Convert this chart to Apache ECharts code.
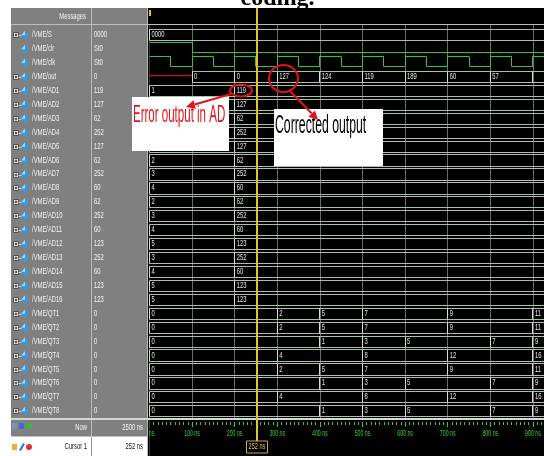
<!DOCTYPE html>
<html>
<head>
<meta charset="utf-8">
<style>
html,body{margin:0;padding:0;background:#fff;}
#c{width:544px;height:456px;}
</style>
<script src="https://cdn.jsdelivr.net/npm/echarts@6/dist/echarts.min.js"></script>
</head>
<body>
<div id="c"></div>
<script>
// ---- waveform data (times in ns) ----
const signalNames = ['/VME/S','/VME/clr','/VME/clk','/VME/out',
  '/VME/AD1','/VME/AD2','/VME/AD3','/VME/AD4','/VME/AD5','/VME/AD6','/VME/AD7','/VME/AD8',
  '/VME/AD9','/VME/AD10','/VME/AD11','/VME/AD12','/VME/AD13','/VME/AD14','/VME/AD15','/VME/AD16',
  '/VME/QT1','/VME/QT2','/VME/QT3','/VME/QT4','/VME/QT5','/VME/QT6','/VME/QT7','/VME/QT8'];

const sTimes = [0];
const sValues = ['0000'];

const clrTimes = [0, 100];
const clrLevels = [1, 0];

const clkTimes  = [0, 50, 100, 150, 200, 250, 300, 350, 400, 450, 500, 550, 600, 650, 700, 750, 800, 850, 900];
const clkLevels = [1, 0,  1,   0,   1,   0,   1,   0,   1,   0,   1,   0,   1,   0,   1,   0,   1,   0,   1];

const outTimes  = [0, 100, 200, 300, 400, 500, 600, 700, 800, 900];
const outValues = ['X', '0', '0', '127', '124', '119', '189', '60', '57', null];

const adTimes = [0, 200];
const adStart = ['1','1','2','3','1','2','3','4','2','3','4','5','3','4','5','5'];
const adFinal = ['119','127','62','252','127','62','252','60','62','252','60','123','252','60','123','123'];

const qtTimes = [
  [0, 300, 400, 500, 700, 900],
  [0, 300, 400, 500, 700, 900],
  [0, 400, 500, 600, 800, 900],
  [0, 300, 500, 700, 900],
  [0, 300, 400, 500, 700, 900],
  [0, 400, 500, 600, 800, 900],
  [0, 300, 500, 700, 900],
  [0, 400, 500, 600, 800, 900]
];
const qtValues = [
  ['0','2','5','7','9','11'],
  ['0','2','5','7','9','11'],
  ['0','1','3','5','7','9'],
  ['0','4','8','12','16'],
  ['0','2','5','7','9','11'],
  ['0','1','3','5','7','9'],
  ['0','4','8','12','16'],
  ['0','1','3','5','7','9']
];

const timeTicks = [0, 100, 200, 300, 400, 500, 600, 700, 800, 900];
const viewEnd = 926;
const cursorTime = 252;
const nowTime = 2500;

// ---- layout constants ----
const ROW0 = 35.2, PITCH = 13.93;
const WAVE_TOP = 24, WAVE_BOTTOM = 418, RULER_TOP = 420;
const LANE = 5.6;
const LANE_COLOR = '#a6c4a6', EDGE_COLOR = '#cfe2cf', BIT_COLOR = '#34c634';
const TXT = '9px "Liberation Sans", Arial, sans-serif';
const RED = '#e3121a';

// ---- build signal list ----
const signals = [];
signals.push({type:'bus', times:sTimes, values:sValues});
signals.push({type:'bit', times:clrTimes, values:clrLevels});
signals.push({type:'bit', times:clkTimes, values:clkLevels});
signals.push({type:'bus', times:outTimes, values:outValues});
for (let k = 0; k < adStart.length; k++) signals.push({type:'bus', times:adTimes, values:[adStart[k], adFinal[k]]});
for (let k = 0; k < qtTimes.length; k++) signals.push({type:'bus', times:qtTimes[k], values:qtValues[k]});
signals.forEach((s, i) => { s.name = signalNames[i]; s.row = i; });

const busSegs = [], bitSegs = [];
signals.forEach(s => {
  s.times.forEach((t, k) => {
    const t1 = k + 1 < s.times.length ? s.times[k + 1] : viewEnd;
    const seg = {t0: t, t1: t1, row: s.row, value: s.values[k], first: k === 0};
    (s.type === 'bus' ? busSegs : bitSegs).push(seg);
  });
});

function valueAt(s, t) {
  let v = s.values[0];
  s.times.forEach((tt, k) => { if (tt <= t) v = s.values[k]; });
  return s.type === 'bit' ? 'St' + v : String(v);
}
function crisp(v) { return Math.round(v - 0.5) + 0.5; }
function rowY(i) { return ROW0 + PITCH * i; }

// ---- series renderers ----
function renderBus(params, api) {
  const s = busSegs[params.dataIndex];
  const a = api.coord([s.t0, s.row]);
  const b = api.coord([s.t1, s.row]);
  const cy = a[1];
  const ch = [];
  if (s.value === 'X') {
    const y = crisp(cy - 1.5);
    ch.push({type:'line', shape:{x1:a[0], y1:y, x2:b[0], y2:y}, style:{stroke:'#b01c1c', lineWidth:1.5}});
  } else {
    const yt = crisp(cy - LANE), yb = crisp(cy + LANE), x = crisp(a[0]);
    ch.push({type:'line', shape:{x1:x, y1:yt, x2:b[0], y2:yt}, style:{stroke:LANE_COLOR, lineWidth:1}});
    ch.push({type:'line', shape:{x1:x, y1:yb, x2:b[0], y2:yb}, style:{stroke:LANE_COLOR, lineWidth:1}});
    ch.push({type:'line', shape:{x1:x, y1:yt, x2:x, y2:yb}, style:{stroke:EDGE_COLOR, lineWidth:1}});
    if (s.value != null) {
      ch.push({type:'text', x:a[0] + 2, y:cy - 0.5, scaleX:0.65,
        style:{text:String(s.value), fill:'#e4e4e4', font:TXT, align:'left', verticalAlign:'middle'}});
    }
  }
  return {type:'group', children:ch};
}

function renderBit(params, api) {
  const s = bitSegs[params.dataIndex];
  const a = api.coord([s.t0, s.row]);
  const b = api.coord([s.t1, s.row]);
  const yHi = crisp(a[1] - 7), yLo = crisp(a[1] + 3);
  const y = s.value ? yHi : yLo;
  const x = crisp(a[0]);
  const ch = [{type:'line', shape:{x1:x, y1:y, x2:b[0], y2:y}, style:{stroke:BIT_COLOR, lineWidth:1}}];
  if (!s.first) ch.push({type:'line', shape:{x1:x, y1:yHi, x2:x, y2:yLo}, style:{stroke:BIT_COLOR, lineWidth:1}});
  return {type:'group', children:ch};
}

// ---- panel / decoration graphics ----
const G = [];
function rect(x, y, w, h, fill, z) { G.push({type:'rect', shape:{x, y, width:w, height:h}, style:{fill}, z: z == null ? 3 : z, silent:true}); }
function hline(x1, x2, y, stroke, w, z) { G.push({type:'line', shape:{x1, y1:y, x2, y2:y}, style:{stroke, lineWidth:w || 1}, z: z == null ? 4 : z, silent:true}); }
function vline(x, y1, y2, stroke, w, z) { G.push({type:'line', shape:{x1:x, y1, x2:x, y2}, style:{stroke, lineWidth:w || 1}, z: z == null ? 4 : z, silent:true}); }
function label(text, x, y, o) {
  o = o || {};
  G.push({type:'text', x, y, scaleX: o.sx == null ? 0.65 : o.sx, z: o.z == null ? 5 : o.z, silent:true,
    style:{text, fill:o.fill || '#f2f2f2', font:o.font || TXT, align:o.align || 'left', verticalAlign:o.va || 'middle'}});
}

// page heading (partly hidden behind the viewer)
label('coding.', 277.5, -1.5, {font:'bold 24px "Liberation Serif", "Times New Roman", serif', fill:'#000', align:'center', sx:1, z:0});

// viewer frame
rect(11, 8, 137, 448, '#808080', 2);
rect(148, 8, 396, 16, '#000', 2);
rect(148, WAVE_TOP, 1.5, WAVE_BOTTOM - WAVE_TOP, '#000', 2);
vline(147.5, 8, 456, '#b6b6b6');
vline(91.5, 8, 456, '#bababa');
hline(11, 544, 24.5, '#bdbdbd');
rect(149, 10, 2, 6, '#e0c22a', 4);
label('Messages', 86, 16.5, {align:'right'});

// signal rows: expand box, icon, name, value at cursor
signals.forEach((s, i) => {
  const cy = rowY(i);
  if (s.type === 'bus') {
    G.push({type:'rect', shape:{x:13.5, y:Math.round(cy) - 2.5, width:5, height:5}, style:{fill:'#f4f4f4', stroke:'#505050', lineWidth:1}, z:4, silent:true});
    hline(14.5, 17.5, Math.round(cy), '#303030', 1, 5);
    vline(16, Math.round(cy) - 1.5, Math.round(cy) + 1.5, '#303030', 1, 5);
    hline(18.5, 21.5, Math.round(cy) + 0.5, '#d0d0d0', 1, 4);
  }
  G.push({type:'polygon', shape:{points:[[25, cy - 4.5], [28.8, cy], [25, cy + 4.5], [21.2, cy]]}, style:{fill:'#2f9ce6'}, z:4, silent:true});
  G.push({type:'polygon', shape:{points:[[25, cy - 4.5], [25, cy], [21.2, cy]]}, style:{fill:'#9ad6ff'}, z:5, silent:true});
  label(s.name, 32, cy - 0.5);
  label(valueAt(s, cursorTime), 94, cy - 0.5);
});

// bottom rows: Now / Cursor
rect(11, 418, 533, 2, '#d6d6d6', 6);
rect(148, 420, 1.5, 36, '#000', 2);
rect(12, 423, 5, 6, '#7f90b6', 4);
rect(19, 423, 5, 6, '#3a6ed0', 4);
G.push({type:'circle', shape:{cx:29, cy:426, r:3}, style:{fill:'#3bb83b'}, z:4, silent:true});
label('Now', 87, 427.5, {align:'right'});
label(nowTime + ' ns', 143, 427.5, {align:'right'});
rect(11, 437, 136, 19, '#ffffff', 3);
hline(11, 147, 436.5, '#c4c4c4', 1, 4);
vline(91.5, 437, 456, '#9a9a9a', 1, 5);
rect(12, 444, 5, 6, '#e2b23a', 5);
G.push({type:'polygon', shape:{points:[[19, 450], [23, 443], [25, 444], [21, 451]]}, style:{fill:'#3c78d8'}, z:5, silent:true});
G.push({type:'circle', shape:{cx:29, cy:447, r:3}, style:{fill:'#e03030'}, z:5, silent:true});
label('Cursor 1', 87, 447, {align:'right', fill:'#111'});
label(cursorTime + ' ns', 143, 447, {align:'right', fill:'#111'});

// annotations
function arrow(x1, y1, x2, y2) {
  const ang = Math.atan2(y2 - y1, x2 - x1), L = 9, W = 4.5;
  const bx = x2 - L * Math.cos(ang), by = y2 - L * Math.sin(ang);
  const px = -Math.sin(ang) * W, py = Math.cos(ang) * W;
  G.push({type:'line', shape:{x1, y1, x2:bx, y2:by}, style:{stroke:RED, lineWidth:2}, z:101, silent:true});
  G.push({type:'polygon', shape:{points:[[x2, y2], [bx + px, by + py], [bx - px, by - py]]}, style:{fill:RED}, z:101, silent:true});
}
rect(132, 97, 97, 54, '#ffffff', 100);
label('Error output in AD', 133, 115.5, {font:'24px "Liberation Sans", Arial, sans-serif', fill:RED, sx:0.48, z:101});
rect(274, 109, 109, 57, '#ffffff', 100);
label('Corrected output', 275, 126.5, {font:'25px "Liberation Sans", Arial, sans-serif', fill:'#000', sx:0.49, z:101});
G.push({type:'ellipse', shape:{cx:241, cy:90.5, rx:11, ry:6}, style:{fill:null, stroke:RED, lineWidth:2}, z:101, silent:true});
G.push({type:'ellipse', shape:{cx:283.5, cy:78.5, rx:14.5, ry:13.5}, style:{fill:null, stroke:RED, lineWidth:2}, z:101, silent:true});
arrow(231, 94, 186, 107);
arrow(290, 91, 318, 120);

// ---- chart ----
const chart = echarts.init(document.getElementById('c'), null, {renderer:'canvas'});
const option = {
  animation: false,
  backgroundColor: '#ffffff',
  grid: [
    {left:149.4, right:0, top:WAVE_TOP, height:WAVE_BOTTOM - WAVE_TOP, show:true, backgroundColor:'#000', borderWidth:0},
    {left:149.4, right:0, top:RULER_TOP, bottom:0, show:true, backgroundColor:'#000', borderWidth:0}
  ],
  xAxis: [
    {gridIndex:0, type:'value', min:0, max:viewEnd, interval:100,
      axisLine:{show:false, onZero:false}, axisTick:{show:false}, axisLabel:{show:false},
      splitLine:{show:true, lineStyle:{color:'#6c6c6c', width:1}}},
    {gridIndex:1, type:'value', min:0, max:viewEnd, interval:100, position:'top', offset:-2,
      axisLine:{show:false, onZero:false}, axisLabel:{show:false}, splitLine:{show:false},
      axisTick:{show:true, inside:true, length:5, lineStyle:{color:'#3cc83c'}},
      minorTick:{show:true, splitNumber:10, length:3, lineStyle:{color:'#3cc83c'}}}
  ],
  yAxis: [
    {gridIndex:0, type:'value', inverse:true, show:false,
      min:(WAVE_TOP - ROW0) / PITCH, max:(WAVE_BOTTOM - ROW0) / PITCH},
    {gridIndex:1, type:'value', inverse:true, show:false, min:0, max:456 - RULER_TOP}
  ],
  series: [
    {type:'custom', name:'bits', xAxisIndex:0, yAxisIndex:0, clip:true, silent:true,
      data: bitSegs.map(s => [s.t0, s.t1, s.row]), encode:{x:[0, 1], y:2}, renderItem:renderBit},
    {type:'custom', name:'buses', xAxisIndex:0, yAxisIndex:0, clip:true, silent:true,
      data: busSegs.map(s => [s.t0, s.t1, s.row]), encode:{x:[0, 1], y:2}, renderItem:renderBus},
    {type:'custom', name:'cursor', xAxisIndex:0, yAxisIndex:0, clip:false, silent:true, z:10,
      data:[[cursorTime, 0]], encode:{x:0, y:1},
      renderItem(params, api) {
        const cs = params.coordSys;
        const x = Math.round(api.coord([cursorTime, 0])[0]);
        return {type:'line', shape:{x1:x, y1:cs.y - 16, x2:x, y2:cs.y + cs.height}, style:{stroke:'#e2c32c', lineWidth:2}};
      }},
    {type:'custom', name:'ruler', xAxisIndex:1, yAxisIndex:1, clip:true, silent:true,
      data: timeTicks.map(t => [t, 14]), encode:{x:0, y:1},
      renderItem(params, api) {
        const t = timeTicks[params.dataIndex];
        const p = api.coord([t, 14]);
        return {type:'text', x:p[0], y:p[1], scaleX:0.58,
          style:{text:t + ' ns', fill:'#3ccc3c', font:TXT, align:'center', verticalAlign:'middle'}};
      }},
    {type:'custom', name:'cursorTag', xAxisIndex:1, yAxisIndex:1, clip:false, silent:true, z:10,
      data:[[cursorTime, 27]], encode:{x:0, y:1},
      renderItem(params, api) {
        const cs = params.coordSys;
        const p = api.coord([cursorTime, 27]);
        const x = Math.round(p[0]);
        return {type:'group', children:[
          {type:'line', shape:{x1:x, y1:cs.y - 2, x2:x, y2:p[1] - 6}, style:{stroke:'#e2c32c', lineWidth:2}},
          {type:'rect', shape:{x:x - 10.5, y:p[1] - 6, width:21, height:12}, style:{fill:'#000', stroke:'#c9a948', lineWidth:1}},
          {type:'text', x:x, y:p[1], scaleX:0.62, style:{text:cursorTime + ' ns', fill:'#e0c060', font:TXT, align:'center', verticalAlign:'middle'}}
        ]};
      }}
  ],
  graphic: {elements: G}
};
chart.setOption(option);
</script>
</body>
</html>
